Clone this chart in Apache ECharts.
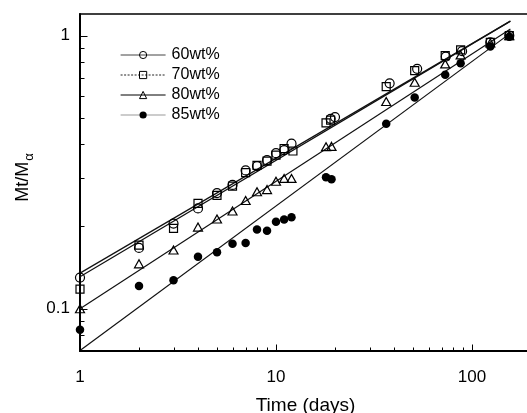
<!DOCTYPE html>
<html>
<head>
<meta charset="utf-8">
<script src="https://cdn.jsdelivr.net/npm/echarts@6/dist/echarts.min.js"></script>
<style>
  html, body { margin: 0; padding: 0; background: #fff; }
  #chart { width: 527px; height: 413px; }
</style>
</head>
<body>
<div id="chart"></div>
<script>
const FONT = '"Liberation Sans", Arial, Helvetica, sans-serif';

// Fractional release Mt/Mα against time (days) for each loading
const days60 = [1, 2, 3, 4, 5, 6, 7, 8, 9, 10, 11, 12, 19, 20, 38, 52.5, 73.5, 89, 124, 155];
const frac60 = [0.130, 0.167, 0.205, 0.233, 0.265, 0.284, 0.321, 0.333, 0.350, 0.371, 0.381, 0.402, 0.496, 0.503, 0.669, 0.756, 0.838, 0.877, 0.945, 1.0];

const days70 = [1, 2, 3, 4, 5, 6, 7, 8, 9, 10, 11, 12.2, 18, 19, 36.5, 51, 73, 87.5, 124, 155];
const frac70 = [0.118, 0.171, 0.197, 0.243, 0.260, 0.281, 0.315, 0.335, 0.347, 0.365, 0.386, 0.378, 0.479, 0.490, 0.651, 0.745, 0.845, 0.887, 0.945, 1.0];

const days80 = [1, 2, 3, 4, 5, 6, 7, 8, 9, 10, 11, 12, 18, 19.2, 36.5, 51, 73, 87.5, 124, 155];
const frac80 = [0.100, 0.146, 0.164, 0.199, 0.213, 0.228, 0.249, 0.268, 0.273, 0.293, 0.300, 0.300, 0.392, 0.393, 0.574, 0.675, 0.788, 0.850, 0.940, 1.0];

const days85 = [1, 2, 3, 4, 5, 6, 7, 8, 9, 10, 11, 12, 18, 19.2, 36.5, 51, 73, 87.5, 124, 155];
const frac85 = [0.0838, 0.121, 0.127, 0.155, 0.161, 0.173, 0.174, 0.195, 0.193, 0.208, 0.212, 0.216, 0.303, 0.298, 0.476, 0.593, 0.719, 0.792, 0.912, 0.99];

// Power-law fits (straight on log-log axes), given by their two end points
const fitDays60 = [1, 157];
const fitFrac60 = [0.131, 1.13];
const fitDays70 = [1, 157];
const fitFrac70 = [0.135, 1.13];
const fitDays80 = [1, 157];
const fitFrac80 = [0.100, 1.058];
const fitDays85 = [1, 151];
const fitFrac85 = [0.0703, 1.0];

const seriesNames = ['60wt%', '70wt%', '80wt%', '85wt%'];

// Axis ticks and labels
const xMajorTicks = [1, 10, 100];
const xTickLabels = ['1', '10', '100'];
const xMinorTicks = [2, 3, 4, 5, 6, 7, 8, 9, 20, 30, 40, 50, 60, 70, 80, 90];
const yMajorTicks = [0.1, 1];
const yTickLabels = ['0.1', '1'];
const yMinorTicks = [0.08, 0.09, 0.2, 0.3, 0.4, 0.5, 0.6, 0.7, 0.8, 0.9];

const X_MIN = 1, X_MAX = 200, Y_MIN = 0.07, Y_MAX = 1.2;

const zip = (xs, ys) => xs.map((x, i) => [x, ys[i]]);

function labelFor(majors, labels) {
  return v => {
    const i = majors.findIndex(t => Math.abs(Math.log10(v / t)) < 1e-6);
    return i < 0 ? '' : labels[i];
  };
}

// Inward tick marks drawn along the bottom and left axes
function tickSeries(values, dir, len) {
  return {
    type: 'custom',
    silent: true,
    clip: false,
    z: 6,
    data: values.map(v => dir === 'x' ? [v, Y_MIN] : [X_MIN, v]),
    encode: { x: 0, y: 1 },
    renderItem: (params, api) => {
      const p = api.coord([api.value(0), api.value(1)]);
      const x = Math.round(p[0]) + 0.5, y = Math.round(p[1]) + 0.5;
      const shape = dir === 'x'
        ? { x1: x, y1: y, x2: x, y2: y - len }
        : { x1: x, y1: y, x2: x + len, y2: y };
      return { type: 'line', shape, style: { stroke: '#000', lineWidth: 1 } };
    }
  };
}

function fitSeries(name, xs, ys, symbol) {
  return {
    type: 'line',
    name,
    data: zip(xs, ys),
    symbol,
    showSymbol: false,
    silent: true,
    z: 2,
    lineStyle: { color: '#111', width: 1.2 },
    itemStyle: { color: '#000' }
  };
}

function pointSeries(xs, ys, symbol, size, filled) {
  return {
    type: 'scatter',
    data: zip(xs, ys),
    symbol,
    symbolSize: size,
    silent: true,
    z: 3,
    itemStyle: filled
      ? { color: '#000', opacity: 1 }
      : { color: 'rgba(255,255,255,0)', borderColor: '#000', borderWidth: 1.2, opacity: 1 }
  };
}

const openMark = { color: 'rgba(255,255,255,0)', borderColor: '#000', borderWidth: 1 };

const chart = echarts.init(document.getElementById('chart'), null, { renderer: 'canvas' });

chart.setOption({
  animation: false,
  backgroundColor: '#fff',
  textStyle: { fontFamily: FONT, color: '#000' },
  grid: {
    left: 80, right: -4, top: 14, bottom: 62,
    outerBoundsMode: 'none',
    containLabel: false,
    show: true, borderColor: '#000', borderWidth: 1.5, backgroundColor: 'transparent'
  },
  legend: {
    orient: 'vertical',
    left: 120,
    top: 47,
    padding: 0,
    itemWidth: 45,
    itemHeight: 9,
    itemGap: 4,
    selectedMode: false,
    textStyle: { fontSize: 16, fontFamily: FONT, color: '#000', padding: [0, 0, 0, 1] },
    data: [
      { name: seriesNames[0], itemStyle: openMark, lineStyle: { color: '#444', width: 1, type: 'solid' } },
      { name: seriesNames[1], itemStyle: openMark, lineStyle: { color: '#222', width: 1, type: [2, 1.5] } },
      { name: seriesNames[2], itemStyle: openMark, lineStyle: { color: '#000', width: 1, type: 'solid' } },
      { name: seriesNames[3], itemStyle: { color: '#000' }, lineStyle: { color: '#999', width: 1.2, type: 'solid' } }
    ]
  },
  xAxis: {
    type: 'log',
    logBase: 10,
    min: X_MIN,
    max: X_MAX,
    name: 'Time (days)',
    nameLocation: 'middle',
    nameGap: 45,
    nameTextStyle: { fontSize: 19, fontFamily: FONT, color: '#000' },
    axisLine: { lineStyle: { color: '#000', width: 2 } },
    axisTick: { show: false },
    splitLine: { show: false },
    axisLabel: {
      fontSize: 17, fontFamily: FONT, color: '#000', margin: 18,
      formatter: labelFor(xMajorTicks, xTickLabels)
    }
  },
  yAxis: {
    type: 'log',
    logBase: 10,
    min: Y_MIN,
    max: Y_MAX,
    name: '{m|Mt/M}{s|α}',
    nameLocation: 'middle',
    nameGap: 46,
    nameTextStyle: {
      fontSize: 18, fontFamily: FONT, color: '#000',
      padding: [0, 0, 0, 10],
      rich: {
        m: { fontSize: 18, lineHeight: 18, verticalAlign: 'top', fontFamily: FONT, color: '#000' },
        s: { fontSize: 13, lineHeight: 13, padding: [12, 0, 0, 1], fontFamily: FONT, color: '#000' }
      }
    },
    axisLine: { lineStyle: { color: '#000', width: 2 } },
    axisTick: { show: false },
    splitLine: { show: false },
    axisLabel: {
      fontSize: 17, fontFamily: FONT, color: '#000', margin: 10,
      formatter: labelFor(yMajorTicks, yTickLabels)
    }
  },
  series: [
    fitSeries(seriesNames[0], fitDays60, fitFrac60, 'circle'),
    fitSeries(seriesNames[1], fitDays70, fitFrac70, 'rect'),
    fitSeries(seriesNames[2], fitDays80, fitFrac80, 'triangle'),
    fitSeries(seriesNames[3], fitDays85, fitFrac85, 'circle'),
    pointSeries(days60, frac60, 'circle', 9, false),
    pointSeries(days70, frac70, 'rect', 8, false),
    pointSeries(days80, frac80, 'triangle', [9, 8], false),
    pointSeries(days85, frac85, 'circle', 8.5, true),
    tickSeries(xMajorTicks, 'x', 7),
    tickSeries(xMinorTicks, 'x', 4),
    tickSeries(yMajorTicks, 'y', 7),
    tickSeries(yMinorTicks, 'y', 4)
  ]
});
</script>
</body>
</html>
